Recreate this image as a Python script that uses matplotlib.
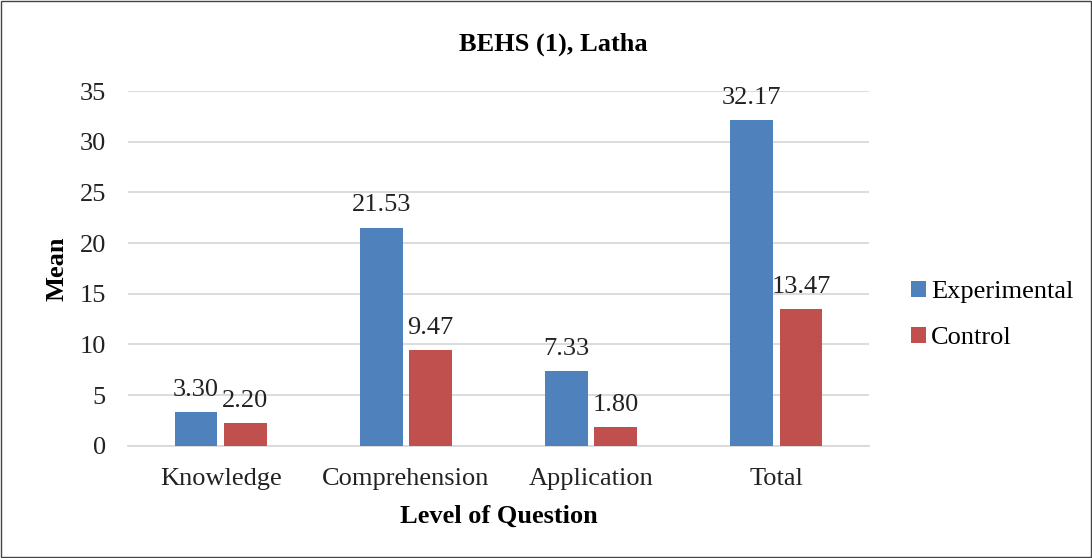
import matplotlib.pyplot as plt
import numpy as np

categories = ["Knowledge", "Comprehension", "Application", "Total"]
experimental = [3.30, 21.53, 7.33, 32.17]
control = [2.20, 9.47, 1.80, 13.47]

plt.rcParams['font.family'] = ['Liberation Serif', 'DejaVu Serif']
FS = 19

fig = plt.figure(figsize=(10.92, 5.58), dpi=100)
ax = fig.add_axes([0.1172, 0.2013, 0.6786, 0.6356])

x = np.arange(len(categories))
w = 0.23
off = 0.133
b1 = ax.bar(x - off, experimental, w, color="#4F81BD", label="Experimental", zorder=3)
b2 = ax.bar(x + off, control, w, color="#C0504D", label="Control", zorder=3)

for bars, vals in ((b1, experimental), (b2, control)):
    for rect, v in zip(bars, vals):
        ax.annotate("%.2f" % v, (rect.get_x() + rect.get_width() / 2, rect.get_height()),
                    xytext=(0, 8), textcoords="offset points",
                    ha="center", va="bottom", fontsize=FS, color="#222222")

ax.set_xlim(-0.5, 3.5)
ax.set_ylim(0, 35)
ax.set_yticks(range(0, 36, 5))
ax.set_xticks(x)
ax.set_xticklabels(categories)
ax.tick_params(axis="both", length=0, labelsize=FS, colors="#222222")
ax.tick_params(axis="y", pad=16)
ax.tick_params(axis="x", pad=16)
ax.yaxis.grid(True, color="#D9D9D9", linewidth=1.3, zorder=0)
for s in ["top", "right", "left"]:
    ax.spines[s].set_visible(False)
ax.spines["bottom"].set_color("#D9D9D9")
ax.spines["bottom"].set_linewidth(1.3)

ax.set_xlabel("Level of Question", fontsize=FS, fontweight="bold", labelpad=11)
ax.set_ylabel("Mean", fontsize=FS, fontweight="bold", labelpad=8)
fig.text(0.507, 0.921, "BEHS (1), Latha", ha="center", va="center",
         fontsize=FS, fontweight="bold")

ax.legend(loc="center left", bbox_to_anchor=(1.057, 0.369), frameon=False,
          fontsize=FS, handlelength=0.55, handleheight=0.55, handletextpad=0.2,
          labelspacing=0.9, borderpad=0, borderaxespad=0)

fig.patches.append(plt.Rectangle((0.001, 0.001), 0.998, 0.998, transform=fig.transFigure,
                                 fill=False, edgecolor="#444444", linewidth=1))

fig.savefig("out.png", dpi=100)
